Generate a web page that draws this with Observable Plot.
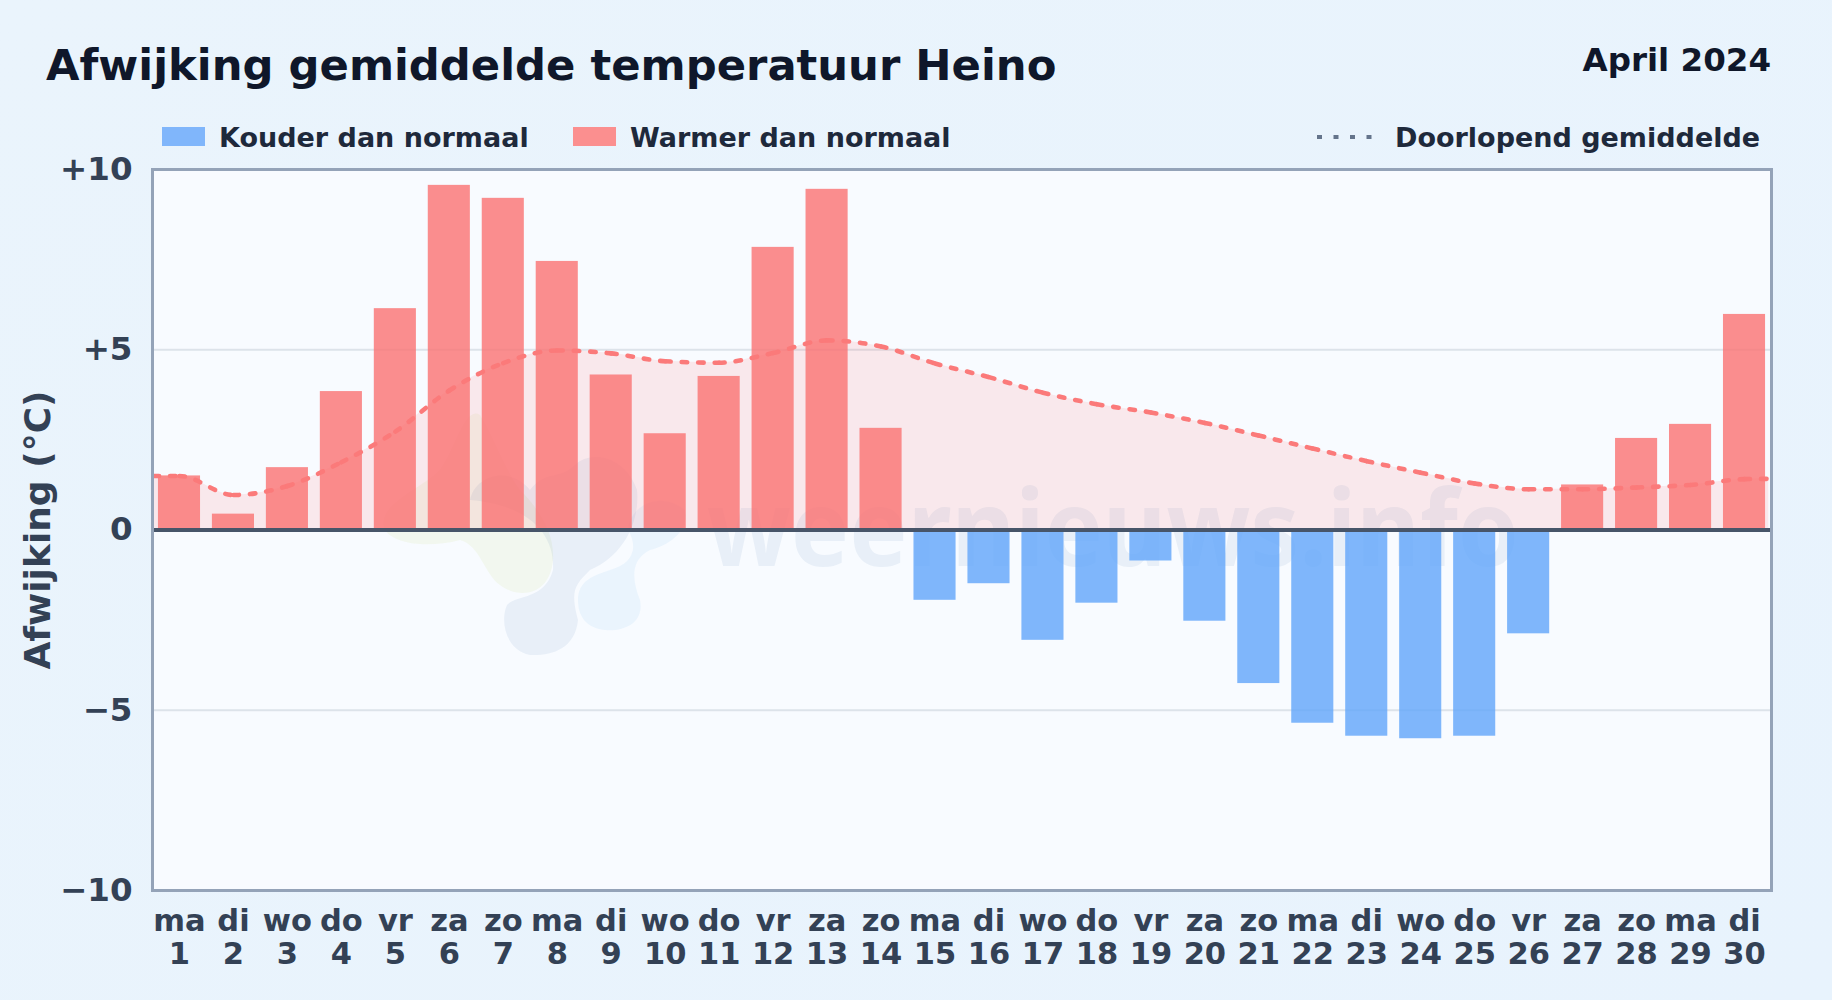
<!DOCTYPE html>
<html lang="nl">
<head>
<meta charset="utf-8">
<script src="https://cdn.jsdelivr.net/npm/d3@7"></script>
<script src="https://cdn.jsdelivr.net/npm/@observablehq/plot@0.6"></script>
<style>
html,body{margin:0;padding:0;width:1832px;height:1000px;overflow:hidden;background:#e8f3fc;font-family:"DejaVu Sans",sans-serif;font-weight:700}
#page{position:relative;width:1832px;height:1000px;background:linear-gradient(135deg,#eaf4fc 0%,#e8f3fd 100%)}
.t{position:absolute;white-space:nowrap;line-height:1}
#chart{position:absolute;left:0;top:139px}
#chart svg{display:block;overflow:visible}
.sw{position:absolute;top:127px;height:19px;width:43px}
</style>
</head>
<body>
<div id="page">
  <div class="t" id="title" style="left:46px;top:43.5px;font-size:43.3px;color:#0f172a">Afwijking gemiddelde temperatuur Heino</div>
  <div class="t" id="period" style="right:61px;top:43.5px;font-size:32.5px;color:#0f172a">April 2024</div>
  <div class="sw" style="left:162px;background:#80b6fb"></div>
  <div class="t" style="left:219px;top:123.5px;font-size:27px;color:#1e293b">Kouder dan normaal</div>
  <div class="sw" style="left:573px;background:#fb8f8f"></div>
  <div class="t" style="left:630px;top:123.5px;font-size:27px;color:#1e293b">Warmer dan normaal</div>
  <svg style="position:absolute;left:1316px;top:134px" width="60" height="6"><line x1="1" y1="3" x2="58" y2="3" stroke="#64748b" stroke-width="4" stroke-dasharray="5 11.5"/></svg>
  <div class="t" style="left:1395px;top:123.5px;font-size:27px;color:#1e293b">Doorlopend gemiddelde</div>
  <div id="chart"></div>
</div>
<script>
const weekdays = ["ma","di","wo","do","vr","za","zo","ma","di","wo","do","vr","za","zo","ma","di","wo","do","vr","za","zo","ma","di","wo","do","vr","za","zo","ma","di"];
const days = d3.range(1, 31);
const deviation = [1.5,0.44,1.73,3.84,6.14,9.56,9.2,7.45,4.3,2.67,4.26,7.84,9.45,2.82,-1.95,-1.49,-3.06,-2.03,-0.86,-2.53,-4.26,-5.36,-5.72,-5.79,-5.72,-2.88,1.25,2.54,2.93,5.98];
const runningDays = [0.52,1,2,3,4,5,6,7,8,9,10,11,12,13,14,15,16,17,18,19,20,21,22,23,24,25,26,27,28,29,30,30.45];
const runningMean = [1.5,1.5,0.97,1.22,1.88,2.73,3.87,4.63,4.98,4.9,4.68,4.64,4.91,5.26,5.09,4.62,4.24,3.81,3.49,3.26,2.97,2.62,2.26,1.91,1.59,1.29,1.13,1.13,1.18,1.25,1.41,1.42];
const yTicks = [-10,-5,0,5,10];
const yTickLabels = ["\u221210","\u22125","0","+5","+10"];

const warm = "#fa7272", cold = "#60a5fa", ink = "#334155";
const bars = days.map((d,i)=>({day:d,value:deviation[i]}));
const running = runningDays.map((d,i)=>({day:d,value:runningMean[i]}));

function watermark(){
  const g = d3.create("svg:g").attr("transform","translate(0,-139)");
  const blobs = [
    ["#dcebb0",.2,"M385 530C395 545 430 548 460 540C480 545 485 575 500 585C520 600 550 595 553 560C555 530 535 505 520 490C505 470 495 440 480 415C465 405 455 450 440 470C420 490 375 505 385 530Z"],
    ["#1e5a9a",.07,"M470 500C475 475 510 465 530 490C545 470 560 480 575 465C590 450 625 455 637 490C640 520 625 555 590 570C575 585 570 590 578 620C575 650 550 656 530 655C505 650 500 620 507 605C515 595 545 600 553 570C555 535 530 505 470 500Z"],
    ["#3b9be8",.07,"M578 600C578 580 595 575 610 570C630 565 640 550 628 530C630 505 660 490 685 510C690 530 670 545 650 550C630 560 632 580 640 600C645 625 620 632 605 630C585 628 578 615 578 600Z"]
  ];
  for (const [c,o,p] of blobs) g.append("path").attr("d",p).attr("fill",c).attr("fill-opacity",o);
  g.append("text").text("weernieuws.info").attr("x",1113).attr("y",566).attr("text-anchor","middle")
    .attr("font-family","Noto Sans").attr("font-weight",700).attr("font-size",106)
    .attr("textLength",812).attr("lengthAdjust","spacingAndGlyphs")
    .attr("fill","#1e5a9a").attr("fill-opacity",.07);
  return g.node();
}

// Dash pattern restarts at every data point, as in the reference.
function restartDash(index, scales, values, dimensions, context, next){
  const g = next(index, scales, values, dimensions, context);
  const p = g.querySelector("path");
  const parts = p.getAttribute("d").split("C");
  let last = parts[0].slice(1);
  for (const seg of parts.slice(1)){
    const q = p.cloneNode();
    q.setAttribute("d", `M${last}C${seg}`);
    p.parentNode.appendChild(q);
    last = seg.split(",").slice(-2).join(",");
  }
  p.remove();
  return g;
}

const chart = Plot.plot({
  width: 1832, height: 861,
  marginTop: 30, marginBottom: 110, marginLeft: 152, marginRight: 61,
  style: {background:"transparent", fontFamily:"DejaVu Sans"},
  x: {domain:[0.5,30.5], axis:null},
  y: {domain:[-10,10], axis:null},
  marks: [
    Plot.frame({fill:"#f8fbff", stroke:"none"}),
    watermark,
    Plot.ruleY([-5,5], {stroke:"#dde3ea", strokeWidth:2}),
    Plot.areaY(running, {x:"day", y1:0, y2:"value", curve:"monotone-x", fill:"#ff6b6b", fillOpacity:.13}),
    Plot.rect(bars, {x1:d=>d.day-0.39, x2:d=>d.day+0.39, y1:0, y2:"value", fill:d=>d.value>=0?warm:cold, fillOpacity:.8}),
    Plot.line(running, {x:"day", y:"value", curve:"monotone-x", stroke:"#fb7a7a", strokeWidth:4.6, strokeDasharray:"5.5 11", strokeLinecap:"round", render:restartDash}),
    Plot.ruleY([0], {stroke:"#475569", strokeWidth:4}),
    Plot.frame({stroke:"#94a3b8", strokeWidth:3}),
    Plot.axisY({ticks:yTicks, tickSize:0, tickPadding:20, tickFormat:d=>yTickLabels[yTicks.indexOf(d)], label:null, fontSize:32.5, fontWeight:700, fill:ink}),
    Plot.axisX({ticks:days, tickSize:0, tickPadding:16, tickFormat:d=>weekdays[d-1]+"\n"+d, label:null, fontSize:30.5, fontWeight:700, fill:ink, lineHeight:1.11, lineAnchor:"top"}),
    Plot.text(["Afwijking (\u00b0C)"], {frameAnchor:"left", textAnchor:"middle", rotate:-90, dx:-114, fontSize:36, fontWeight:700, fill:ink})
  ]
});
document.getElementById("chart").appendChild(chart);
</script>
</body>
</html>
